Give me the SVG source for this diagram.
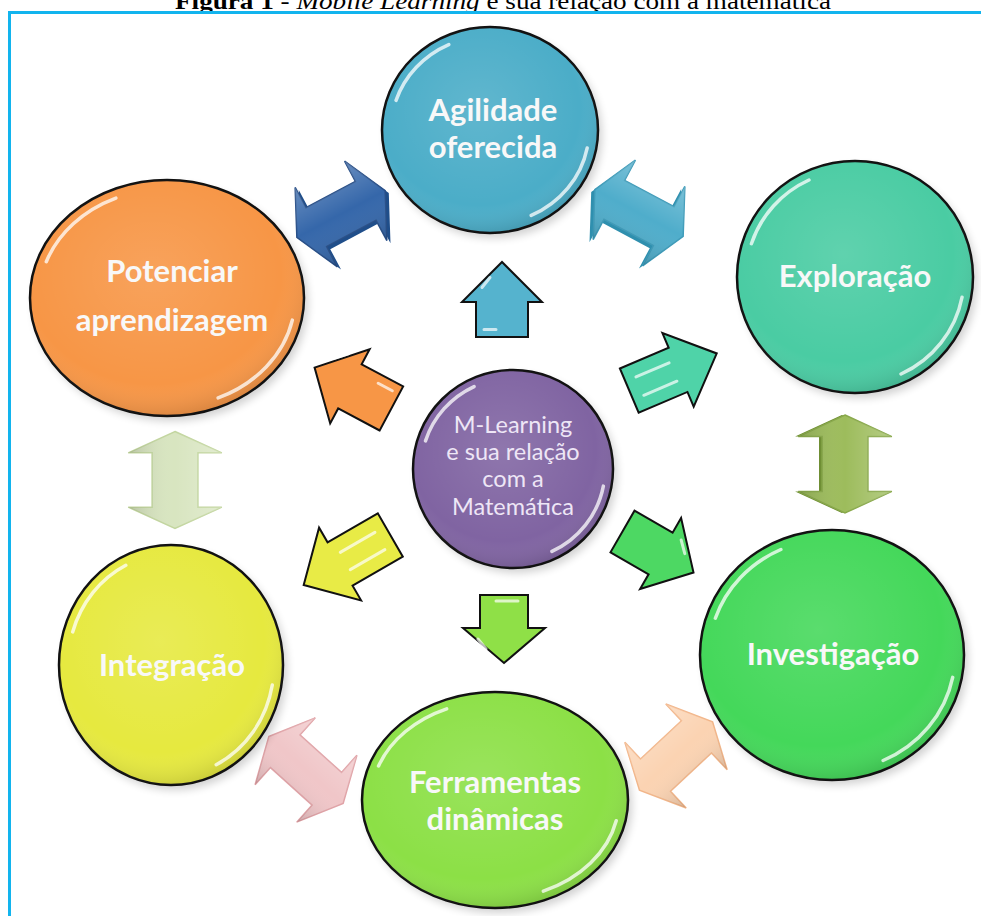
<svg xmlns="http://www.w3.org/2000/svg" width="981" height="916" viewBox="0 0 981 916">
<style>
.cap{font-family:"Liberation Serif",serif;font-size:24px;fill:#000}
.lbl{font-family:Lato,"Open Sans",sans-serif;font-weight:bold;font-size:31px;fill:#F8F8F8;text-anchor:middle}
.clbl{font-family:Lato,"Open Sans",sans-serif;font-size:23.5px;fill:#EEE6F6;text-anchor:middle}
.disc{stroke:#111;stroke-width:2.5}
.shade{fill:url(#shade)}
.hl{fill:none;stroke:#fff;stroke-width:3.5;stroke-opacity:0.75;stroke-linecap:round;stroke-dasharray:15 37 13 35;stroke-dashoffset:-3}
.shadow{fill:#000;opacity:0.18;filter:url(#blur)}
.sa{stroke:#111;stroke-width:2;stroke-linejoin:miter}
.sah{fill:none;stroke:#fff;stroke-width:3;stroke-opacity:0.7;stroke-linecap:round}
.da{stroke-width:1.5;stroke-linejoin:miter}
</style>
<defs>
<filter id="blur" x="-20%" y="-20%" width="140%" height="140%"><feGaussianBlur stdDeviation="4"/></filter>
<radialGradient id="shade" cx="0.45" cy="0.4" r="0.62">
<stop offset="0" stop-color="#fff" stop-opacity="0.12"/>
<stop offset="0.75" stop-color="#fff" stop-opacity="0"/>
<stop offset="1" stop-color="#000" stop-opacity="0.14"/>
</radialGradient>
<linearGradient id="ashade" x1="0" y1="0" x2="0" y2="1">
<stop offset="0" stop-color="#fff" stop-opacity="0.25"/>
<stop offset="0.5" stop-color="#fff" stop-opacity="0"/>
<stop offset="1" stop-color="#000" stop-opacity="0.15"/>
</linearGradient>
<polygon id="dbl" points="-50,0 -28,-45 -28,-22 28,-22 28,-45 50,0 28,45 28,22 -28,22 -28,45"/>
</defs>

<rect width="981" height="916" fill="#fff"/>
<text class="cap" x="175" y="9" textLength="656" lengthAdjust="spacingAndGlyphs"><tspan font-weight="bold">Figura 1</tspan> - <tspan font-style="italic">Mobile Learning</tspan> e sua relação com a matemática</text>
<path d="M9.5,916 V12.5 H981" fill="none" stroke="#12B4EE" stroke-width="3"/>

<g id="connectors">
  <g id="arrow-up" transform="translate(502,299.5) rotate(-90)">
    <polygon class="sa" fill="#55B3CE" points="-37.5,-26 -2.5,-26 -2.5,-40 37.5,0 -2.5,40 -2.5,26 -37.5,26"/>
    <path class="sah" d="M-30,-18 V-6 M12,-20 L22,-12"/>
  </g>
  <g id="arrow-orange" transform="translate(353,388) rotate(208)">
    <polygon class="sa" fill="#F79646" points="-43.5,-25 3.5,-25 3.5,-42 43.5,0 3.5,42 3.5,25 -43.5,25"/>
    <path class="sah" d="M-36,16 H-20 M20,28 L30,18"/>
  </g>
  <g id="arrow-teal" transform="translate(673,372) rotate(-23)">
    <polygon class="sa" fill="#4FD3A8" points="-47.5,-24 5.5,-24 5.5,-40 47.5,0 5.5,40 5.5,24 -47.5,24"/>
    <path class="sah" d="M-36,-10 H0 M-36,10 H0"/>
  </g>
  <g id="arrow-yellow" transform="translate(347,560) rotate(150)">
    <polygon class="sa" fill="#E8EB46" points="-50,-25 8,-25 8,-42 50,0 8,42 8,25 -50,25"/>
    <path class="sah" d="M-38,-10 H2 M-38,10 H2"/>
  </g>
  <g id="arrow-green" transform="translate(658,552) rotate(30)">
    <polygon class="sa" fill="#4DD863" points="-41,-24 3,-24 3,-41 41,0 3,41 3,24 -41,24"/>
    <path class="sah" d="M14,-22 L24,-12"/>
  </g>
  <g id="arrow-down" transform="translate(504,629) rotate(90)">
    <polygon class="sa" fill="#8FE047" points="-34,-24 -1,-24 -1,-41 34,0 -1,41 -1,24 -34,24"/>
    <path class="sah" d="M-28,-14 V8 M10,26 L20,18"/>
  </g>
  <g id="dbl-blue" transform="translate(341,214) rotate(-28)">
    <use href="#dbl" transform="translate(2,4)" fill="#1F4E8A"/>
    <use href="#dbl" class="da" fill="#3567AA" stroke="#284F88"/>
    <use href="#dbl" fill="url(#ashade)"/>
  </g>
  <g id="dbl-teal" transform="translate(639,213) rotate(28)">
    <use href="#dbl" transform="translate(-2,4)" fill="#2F8FAE"/>
    <use href="#dbl" class="da" fill="#4FADCB" stroke="#3E9BB9"/>
    <use href="#dbl" fill="url(#ashade)"/>
  </g>
  <g id="dbl-palegreen" transform="translate(175,480) rotate(90) scale(0.97,1.04)">
    <use href="#dbl" class="da" fill="#D8E5C0" stroke="#C3D6A0"/>
    <use href="#dbl" fill="url(#ashade)"/>
  </g>
  <g id="dbl-olive" transform="translate(845,464) rotate(90) scale(0.98,1.04)">
    <use href="#dbl" transform="translate(0,3)" fill="#6F8E34"/>
    <use href="#dbl" class="da" fill="#9DBC5C" stroke="#88A84A"/>
    <use href="#dbl" fill="url(#ashade)"/>
  </g>
  <g id="dbl-pink" transform="translate(306,770) rotate(42)">
    <use href="#dbl" class="da" fill="#F0C6C8" stroke="#E0A3A7"/>
    <use href="#dbl" fill="url(#ashade)"/>
  </g>
  <g id="dbl-peach" transform="translate(676,756) rotate(-43)">
    <use href="#dbl" class="da" fill="#FBD3B2" stroke="#F2B68A"/>
    <use href="#dbl" fill="url(#ashade)"/>
  </g>
</g>

<g id="node-agilidade">
  <ellipse class="shadow" cx="494" cy="135" rx="108" ry="103"/>
  <ellipse class="disc" cx="490" cy="130" rx="108" ry="103" fill="#4BADC8"/>
  <ellipse class="shade" cx="490" cy="130" rx="108" ry="103"/>
  <ellipse class="hl" cx="490" cy="130" rx="99" ry="94" pathLength="100"/>
  <text class="lbl" x="493" y="121">Agilidade</text>
  <text class="lbl" x="493" y="158">oferecida</text>
</g>
<g id="node-exploracao">
  <ellipse class="shadow" cx="859" cy="282" rx="118" ry="116"/>
  <ellipse class="disc" cx="855" cy="277" rx="118" ry="116" fill="#4ACCA3"/>
  <ellipse class="shade" cx="855" cy="277" rx="118" ry="116"/>
  <ellipse class="hl" cx="855" cy="277" rx="109" ry="107" pathLength="100"/>
  <text class="lbl" x="855" y="287">Exploração</text>
</g>
<g id="node-potenciar">
  <ellipse class="shadow" cx="171" cy="303" rx="137" ry="118"/>
  <ellipse class="disc" cx="167" cy="298" rx="137" ry="118" fill="#F79646"/>
  <ellipse class="shade" cx="167" cy="298" rx="137" ry="118"/>
  <ellipse class="hl" cx="167" cy="298" rx="128" ry="109" pathLength="100"/>
  <text class="lbl" x="172" y="282">Potenciar</text>
  <text class="lbl" x="172" y="331">aprendizagem</text>
</g>
<g id="node-integracao">
  <ellipse class="shadow" cx="175" cy="670" rx="112" ry="120"/>
  <ellipse class="disc" cx="171" cy="665" rx="112" ry="120" fill="#E6E93F"/>
  <ellipse class="shade" cx="171" cy="665" rx="112" ry="120"/>
  <ellipse class="hl" cx="171" cy="665" rx="103" ry="111" pathLength="100"/>
  <text class="lbl" x="172" y="676">Integração</text>
</g>
<g id="node-ferramentas">
  <ellipse class="shadow" cx="499" cy="805" rx="133" ry="108"/>
  <ellipse class="disc" cx="495" cy="800" rx="133" ry="108" fill="#8CE046"/>
  <ellipse class="shade" cx="495" cy="800" rx="133" ry="108"/>
  <ellipse class="hl" cx="495" cy="800" rx="124" ry="99" pathLength="100"/>
  <text class="lbl" x="495" y="793">Ferramentas</text>
  <text class="lbl" x="495" y="830">dinâmicas</text>
</g>
<g id="node-investigacao">
  <ellipse class="shadow" cx="836" cy="660" rx="132" ry="125"/>
  <ellipse class="disc" cx="832" cy="655" rx="132" ry="125" fill="#44D85A"/>
  <ellipse class="shade" cx="832" cy="655" rx="132" ry="125"/>
  <ellipse class="hl" cx="832" cy="655" rx="123" ry="116" pathLength="100"/>
  <text class="lbl" x="833" y="665">Investigação</text>
</g>
<g id="node-mlearning">
  <ellipse class="shadow" cx="517" cy="474" rx="100" ry="99"/>
  <ellipse class="disc" cx="513" cy="469" rx="100" ry="99" fill="#8064A2"/>
  <ellipse class="shade" cx="513" cy="469" rx="100" ry="99"/>
  <ellipse class="hl" cx="513" cy="469" rx="92" ry="91" pathLength="100"/>
  <text class="clbl" x="513" y="433">M-Learning</text>
  <text class="clbl" x="513" y="460">e sua relação</text>
  <text class="clbl" x="513" y="487">com a</text>
  <text class="clbl" x="513" y="515">Matemática</text>
</g>
</svg>
